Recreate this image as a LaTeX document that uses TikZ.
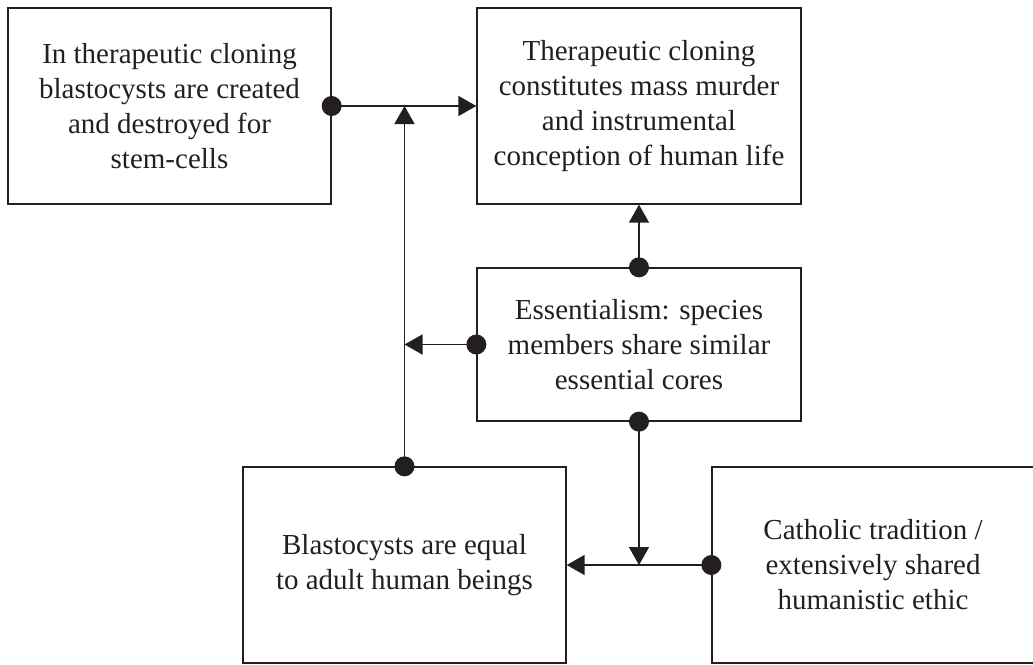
\documentclass[tikz,border=0pt]{standalone}
\usepackage{fontspec}
\setmainfont{Liberation Serif}
\usetikzlibrary{arrows.meta}
\definecolor{ink}{RGB}{35,31,32}
\begin{document}
\begin{tikzpicture}[x=1pt,y=-1pt,
  box/.style={draw=ink, line width=1.3pt, rectangle, align=center, text=ink,
    inner sep=0pt, font=\fontsize{29}{35}\selectfont},
  link/.style={draw=ink, line width=1.5pt, -{Triangle[length=18pt,width=20pt]}},
  dot/.style={fill=ink}
]
\useasboundingbox (0,0) rectangle (1033,664);

% claim boxes
\node[box, minimum width=323pt, minimum height=196pt] (b1) at (169.5,106)
  {In therapeutic cloning\\blastocysts are created\\and destroyed for\\stem-cells};
\node[box, minimum width=324pt, minimum height=196pt] (b2) at (639,106)
  {Therapeutic cloning\\constitutes mass murder\\and instrumental\\conception of human life};
\node[box, minimum width=324pt, minimum height=153pt] (b3) at (639,344.5)
  {Essentialism: species\\members share similar\\essential cores};
\node[box, minimum width=323pt, minimum height=196pt] (b4) at (404.5,565)
  {Blastocysts are equal\\to adult human beings};
\node[box, minimum width=322pt, minimum height=196pt] (b5) at (873,565)
  {Catholic tradition /\\extensively shared\\humanistic ethic};

% junction points on the connectors
\coordinate (j1) at (b4.north |- b1.east);
\coordinate (j2) at (b4.north |- b3.west);
\coordinate (j3) at (b3.south |- b5.west);

% connectors
\draw[link] (b1.east) -- (b2.west);
\draw[link] (b4.north) -- (j1);
\draw[link] (b3.west) -- (j2);
\draw[link] (b3.north) -- (b2.south);
\draw[link] (b3.south) -- (j3);
\draw[link] (b5.west) -- (b4.east);

% connector origins
\foreach \p in {b1.east, b4.north, b3.west, b3.north, b3.south, b5.west}
  \fill[dot] (\p) circle (10pt);
\end{tikzpicture}
\end{document}
